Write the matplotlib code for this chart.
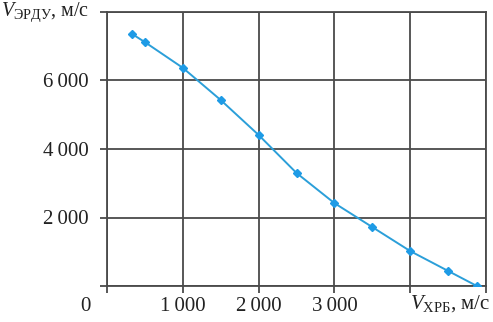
import matplotlib.pyplot as plt

plt.rcParams['font.family'] = ['Liberation Serif', 'DejaVu Serif']
plt.rcParams['mathtext.fontset'] = 'custom'
plt.rcParams['mathtext.rm'] = 'Liberation Serif'
plt.rcParams['mathtext.it'] = 'Liberation Serif:italic'

# скорость ХРБ, м/с  и  скорость ЭРДУ, м/с
v_hrb = [330, 500, 1000, 1500, 2000, 2500, 3000, 3500, 4000, 4500, 4880]
v_erdu = [7360, 7120, 6370, 5430, 4410, 3300, 2420, 1720, 1020, 440, 0]

xticks = [0, 1000, 2000, 3000, 4000, 5000]
xlabels = ["", "1\u2009000", "2\u2009000", "3\u2009000", "", ""]
yticks = [0, 2000, 4000, 6000, 8000]
ylabels = ["", "2\u2009000", "4\u2009000", "6\u2009000", ""]

gridc = "#4a4a4a"
bluec = "#2b9fd9"
fs = 15

fig = plt.figure(figsize=(4.93, 3.22), dpi=100)
ax = fig.add_axes([107 / 493, 36 / 322, 379 / 493, 274 / 322])

ax.plot(v_hrb, v_erdu, color=bluec, lw=1.4, marker="D", ms=4,
        mfc="#1e9be6", mec="#1e9be6", zorder=3)

ax.set_xlim(0, 5000)
ax.set_ylim(0, 8000)
ax.set_xticks(xticks)
ax.set_xticklabels(xlabels)
ax.set_yticks(yticks)
ax.set_yticklabels(ylabels)
ax.grid(True, color=gridc, lw=1.3)
for s in ax.spines.values():
    s.set_color(gridc)
    s.set_linewidth(1.3)
ax.tick_params(axis="both", direction="out", length=5, width=1.3, color=gridc,
               labelsize=fs, colors="#222222")
ax.tick_params(axis="x", pad=3)
ax.tick_params(axis="y", pad=8)

ax.text(-230, 8000, r"$V_{\mathrm{ЭРДУ}}$, м/с", fontsize=14.5, color="#222222",
        ha="right", va="center")
ax.text(-290, -600, "0", fontsize=fs, color="#222222", ha="center", va="center")
ax.text(4000, -500, r"$V_{\mathrm{ХРБ}}$, м/с", fontsize=fs, color="#222222",
        ha="left", va="center")

fig.savefig("out.png", dpi=100)
plt.close(fig)
